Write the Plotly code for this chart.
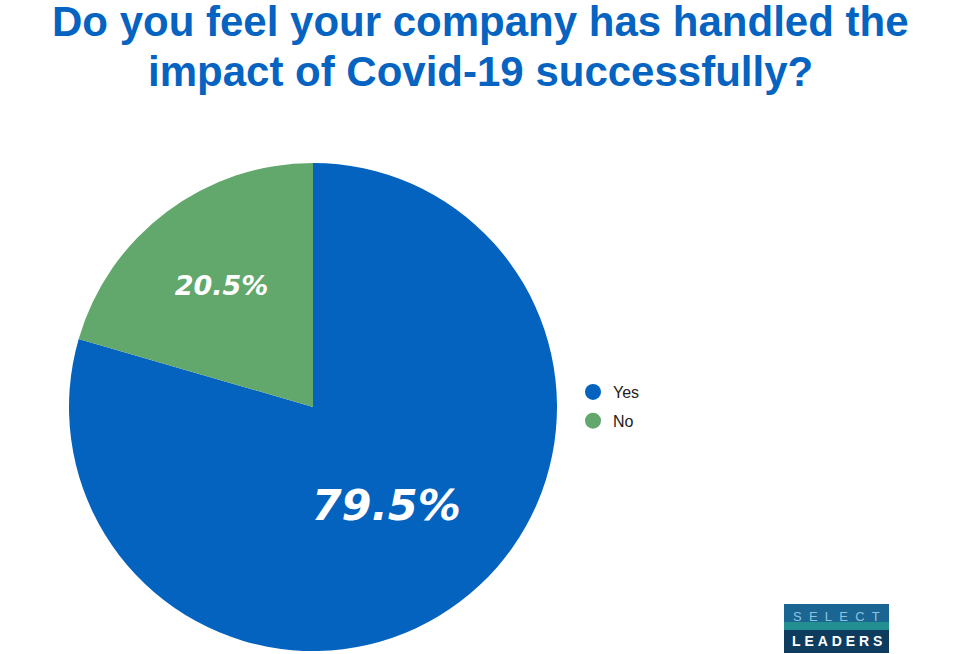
import plotly.graph_objects as go

labels = ["Yes", "No"]
values = [79.5, 20.5]
colors = ["#0563C0", "#62A76C"]
label_sizes = [43, 27]

title_lines = ["Do you feel your company has handled the",
               "impact of Covid-19 successfully?"]

fig = go.Figure()

fig.add_trace(go.Pie(
    labels=labels, values=values, sort=False, direction="clockwise",
    marker=dict(colors=colors, line=dict(width=0)),
    texttemplate="%{percent:.1%}", textposition="inside",
    insidetextorientation="horizontal",
    textfont=dict(family="DejaVu Sans", size=label_sizes, color="white",
                  weight="bold", style="italic"),
    domain=dict(x=[69/960, 557/960], y=[3/654, 491/654]),
    showlegend=False, hoverinfo="label+percent",
))

# legend entries with circle markers
for lab, col in zip(labels, colors):
    fig.add_trace(go.Scatter(
        x=[None], y=[None], mode="markers", name=lab, legendgroup=lab,
        marker=dict(symbol="circle", size=17, color=col),
    ))

fig.update_xaxes(visible=False)
fig.update_yaxes(visible=False)

# title, one annotation per line
for line, ymid in zip(title_lines, [22, 71]):
    fig.add_annotation(xref="paper", yref="paper", x=0.5, y=1-ymid/654,
                       xanchor="center", yanchor="middle",
                       text="<b>" + line + "</b>", showarrow=False,
                       font=dict(family="Liberation Sans", size=42, color="#0563C1"))

# logo
fig.add_shape(type="rect", xref="paper", yref="paper",
              x0=784/960, x1=889/960, y0=1-630/654, y1=1-604/654,
              fillcolor="#1B6593", line=dict(width=0), layer="above")
fig.add_shape(type="rect", xref="paper", yref="paper",
              x0=784/960, x1=889/960, y0=1-630/654, y1=1-622/654,
              fillcolor="#238F90", line=dict(width=0), layer="above")
fig.add_shape(type="rect", xref="paper", yref="paper",
              x0=784/960, x1=889/960, y0=1-653/654, y1=1-630/654,
              fillcolor="#0E3C5E", line=dict(width=0), layer="above")
sp2 = "\u00a0\u00a0"
fig.add_annotation(xref="paper", yref="paper", x=836.5/960, y=1-616/654,
                   xanchor="center", yanchor="middle",
                   text=sp2.join("SELECT"), showarrow=False,
                   font=dict(family="Liberation Sans", size=13, color="#8EC3E0"))
fig.add_annotation(xref="paper", yref="paper", x=836.5/960, y=1-641/654,
                   xanchor="center", yanchor="middle",
                   text="<b>" + "\u00a0".join("LEADERS") + "</b>", showarrow=False,
                   font=dict(family="Liberation Sans", size=14, color="white"))

fig.update_layout(
    width=960, height=654,
    margin=dict(l=0, r=0, t=0, b=0),
    paper_bgcolor="white", plot_bgcolor="white",
    legend=dict(x=573/960, y=1-375/654, xanchor="left", yanchor="top",
                font=dict(family="Liberation Sans", size=16, color="#222222"),
                itemsizing="trace", tracegroupgap=5, bgcolor="rgba(0,0,0,0)"),
)

fig.write_html("out.html", config={"displayModeBar": False},
               post_script="document.body.style.margin='0';document.body.style.overflow='hidden';")
